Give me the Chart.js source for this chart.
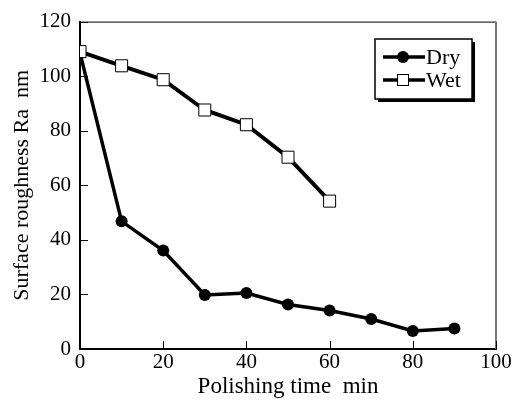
<!DOCTYPE html>
<html><head><meta charset="utf-8">
<script src="https://cdn.jsdelivr.net/npm/chart.js@4"></script>
<style>html,body{margin:0;padding:0;background:#fff}#wrap{width:522px;height:401px}</style>
</head><body><div id="wrap"><canvas id="c" width="522" height="401"></canvas></div>
<script>
const timeMin = [0, 10, 20, 30, 40, 50, 60, 70, 80, 90];
const dryRa = [108.5, 46.8, 36.1, 19.8, 20.5, 16.3, 14.1, 11.0, 6.6, 7.5];
const wetTime = [0, 10, 20, 30, 40, 50, 60];
const wetRa = [109, 103.8, 98.7, 87.6, 82.2, 70.3, 54.2];
const xTicks = [0, 20, 40, 60, 80, 100];
const yTicks = [0, 20, 40, 60, 80, 100, 120];
const seriesNames = ['Dry', 'Wet'];

const FONT = "'Liberation Serif', 'Times New Roman', serif";

const frame = {
  id: 'frame',
  afterDatasetsDraw(chart) {
    const {ctx, chartArea: a, scales: {x, y}} = chart;
    ctx.save();
    ctx.strokeStyle = '#000'; ctx.lineWidth = 1;
    ctx.beginPath(); ctx.moveTo(a.left, a.top + 0.5); ctx.lineTo(a.right, a.top + 0.5); ctx.stroke();
    ctx.strokeStyle = '#777'; ctx.lineWidth = 2;
    ctx.beginPath(); ctx.moveTo(a.right, a.top); ctx.lineTo(a.right, a.bottom); ctx.stroke();
    ctx.strokeStyle = '#000'; ctx.lineWidth = 1;
    xTicks.forEach(v => { const px = Math.round(x.getPixelForValue(v)) + 0.5;
      ctx.beginPath(); ctx.moveTo(px, a.bottom); ctx.lineTo(px, a.bottom - 8); ctx.stroke(); });
    yTicks.forEach(v => { const py = Math.round(y.getPixelForValue(v)) + 0.5;
      ctx.beginPath(); ctx.moveTo(a.left, py); ctx.lineTo(a.left + 8, py); ctx.stroke(); });
    // legend
    const lx = 375, ly = 39, lw = 97, lh = 60;
    ctx.fillStyle = '#000';
    ctx.fillRect(lx + 3, ly + 3, lw, lh);
    ctx.fillStyle = '#fff';
    ctx.fillRect(lx, ly, lw, lh);
    ctx.strokeStyle = '#000'; ctx.lineWidth = 1.5;
    ctx.strokeRect(lx, ly, lw, lh);
    const rows = [ly + 18, ly + 41];
    rows.forEach((ry, i) => {
      ctx.strokeStyle = '#000'; ctx.lineWidth = 3.5;
      ctx.beginPath(); ctx.moveTo(lx + 8, ry); ctx.lineTo(lx + 50, ry); ctx.stroke();
      if (i === 0) {
        ctx.fillStyle = '#000'; ctx.beginPath(); ctx.arc(lx + 28, ry, 6, 0, Math.PI * 2); ctx.fill();
      } else {
        ctx.fillStyle = '#fff'; ctx.lineWidth = 1;
        ctx.fillRect(lx + 22, ry - 6, 12, 12); ctx.strokeRect(lx + 22.5, ry - 5.5, 11, 11);
      }
      ctx.fillStyle = '#000'; ctx.font = '22px ' + FONT; ctx.textBaseline = 'middle'; ctx.textAlign = 'left';
      ctx.fillText(seriesNames[i], lx + 51, ry + 1);
    });
    ctx.restore();
  }
};

new Chart(document.getElementById('c'), {
  type: 'scatter',
  data: {
    datasets: [
      { label: seriesNames[0], data: timeMin.map((t, i) => ({x: t, y: dryRa[i]})), showLine: true,
        borderColor: '#000', borderWidth: 3.5, pointStyle: 'circle', pointRadius: 6,
        pointBackgroundColor: '#000', pointBorderColor: '#000', pointBorderWidth: 0, order: 2 },
      { label: seriesNames[1], data: wetTime.map((t, i) => ({x: t, y: wetRa[i]})), showLine: true,
        borderColor: '#000', borderWidth: 4, pointStyle: 'rect', pointRadius: 8.5,
        pointBackgroundColor: '#fff', pointBorderColor: '#000', pointBorderWidth: 1, order: 1 }
    ]
  },
  options: {
    responsive: false, animation: false,
    layout: { padding: { left: 0, right: 26, top: 18, bottom: 0 } },
    plugins: { legend: { display: false }, tooltip: { enabled: false } },
    scales: {
      x: { type: 'linear', min: 0, max: 100,
        afterBuildTicks: s => { s.ticks = xTicks.map(v => ({value: v})); },
        afterFit: s => { s.height = 52; },
        grid: { display: false, drawTicks: false },
        border: { display: true, color: '#000', width: 2 },
        ticks: { color: '#000', font: { family: FONT, size: 21 }, padding: 1, maxRotation: 0 },
        title: { display: true, text: 'Polishing time  min', color: '#000', font: { family: FONT, size: 23 }, padding: { top: 0, bottom: 0 } } },
      y: { type: 'linear', min: 0, max: 120,
        afterBuildTicks: s => { s.ticks = yTicks.map(v => ({value: v})); },
        afterFit: s => { s.width = 80; },
        grid: { display: false, drawTicks: false },
        border: { display: true, color: '#000', width: 2 },
        ticks: { color: '#000', font: { family: FONT, size: 21 }, padding: 9 },
        title: { display: true, text: 'Surface roughness Ra  nm', color: '#000', font: { family: FONT, size: 22 }, padding: { top: 9, bottom: 0 } } }
    }
  },
  plugins: [frame]
});
</script></body></html>
